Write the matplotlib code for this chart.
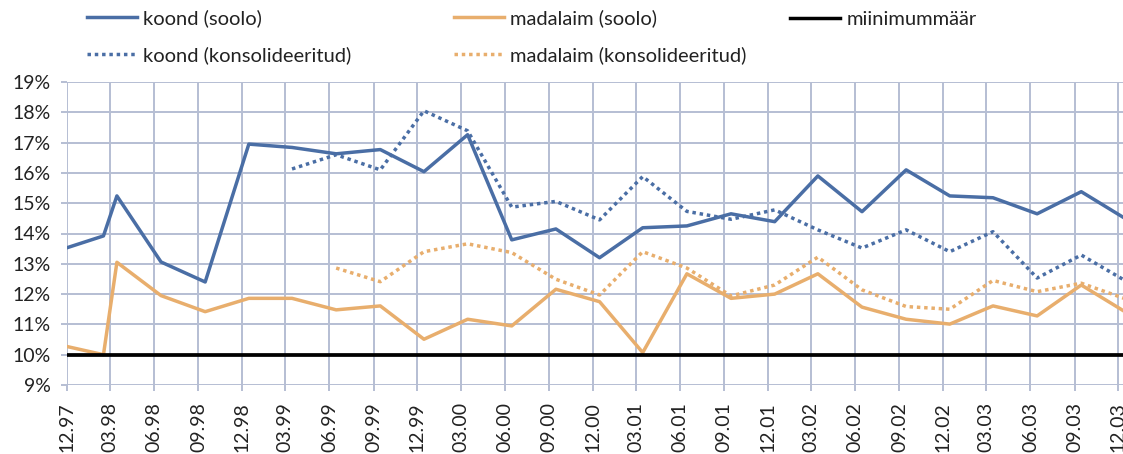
import pandas as pd
import matplotlib.pyplot as plt
from matplotlib.lines import Line2D
from matplotlib.ticker import FuncFormatter, MultipleLocator

plt.rcParams['font.family'] = ['Lato', 'DejaVu Sans']

# observation dates (quarterly, plus one extra point in early 1998)
dates = ['1997-12-01', '1998-02-15', '1998-03-15', '1998-06-15', '1998-09-15',
         '1998-12-15', '1999-03-15', '1999-06-15', '1999-09-15', '1999-12-15',
         '2000-03-15', '2000-06-15', '2000-09-15', '2000-12-15', '2001-03-15',
         '2001-06-15', '2001-09-15', '2001-12-15', '2002-03-15', '2002-06-15',
         '2002-09-15', '2002-12-15', '2003-03-15', '2003-06-15', '2003-09-15',
         '2003-12-15']

koond_soolo = [13.53, 13.92, 15.24, 13.06, 12.40, 16.95, 16.84, 16.63, 16.77, 16.04,
               17.26, 13.79, 14.15, 13.20, 14.19, 14.25, 14.65, 14.39, 15.90, 14.72,
               16.10, 15.24, 15.18, 14.65, 15.38, 14.50]
madalaim_soolo = [10.27, 10.00, 13.05, 11.95, 11.42, 11.86, 11.86, 11.48, 11.61, 10.51,
                  11.17, 10.95, 12.16, 11.75, 10.07, 12.67, 11.86, 12.00, 12.67, 11.57,
                  11.17, 11.01, 11.61, 11.28, 12.30, 11.42]
koond_kons = [None, None, None, None, None, None, 16.13, 16.60, 16.10, 18.05,
              17.39, 14.87, 15.06, 14.45, 15.88, 14.73, 14.47, 14.78, 14.12, 13.52,
              14.12, 13.40, 14.06, 12.53, 13.29, 12.45]
madalaim_kons = [None, None, None, None, None, None, None, 12.86, 12.41, 13.40,
                 13.66, 13.37, 12.49, 11.97, 13.40, 12.86, 11.94, 12.30, 13.22, 12.14,
                 11.59, 11.50, 12.45, 12.08, 12.36, 11.85]
miinimum = 10

tick_dates = pd.date_range('1997-12-01', '2003-12-01', freq='3MS')
tick_labels = [d.strftime('%m.%y') for d in tick_dates]

df = pd.DataFrame({'date': pd.to_datetime(dates),
                   'koond_soolo': koond_soolo,
                   'madalaim_soolo': madalaim_soolo,
                   'koond_kons': pd.to_numeric(koond_kons),
                   'madalaim_kons': pd.to_numeric(madalaim_kons)})

blue = '#4a6ea5'
orange = '#e8ae6d'
gridc = '#b6bed3'
dots = (0, (1, 1.1))
lw = 2.5

fig = plt.figure(figsize=(11.23, 4.54), dpi=100)
ax = fig.add_axes([67 / 1123, 69 / 454, 1056 / 1123, 303 / 454])

ax.plot(df['date'], df['koond_soolo'], color=blue, lw=lw)
ax.plot(df['date'], df['madalaim_soolo'], color=orange, lw=lw)
ax.axhline(miinimum, color='black', lw=2.7)
ax.plot(df['date'], df['koond_kons'], color=blue, lw=lw, ls=dots, dash_capstyle='butt')
ax.plot(df['date'], df['madalaim_kons'], color=orange, lw=lw, ls=dots, dash_capstyle='butt')

ax.set_ylim(9, 19)
ax.set_xlim(pd.Timestamp('1997-12-01'), pd.Timestamp('2003-12-11'))
ax.yaxis.set_major_locator(MultipleLocator(1))
ax.yaxis.set_major_formatter(FuncFormatter(lambda v, p: f'{v:.0f}%'))
ax.set_xticks(tick_dates)
ax.set_xticklabels(tick_labels, rotation=90, va='top', ha='center')

ax.grid(True, color=gridc, lw=1.4)
ax.set_axisbelow(True)
for s in ax.spines.values():
    s.set_visible(False)
ax.tick_params(axis='both', color=gridc, width=1.4, length=4.5, labelsize=14,
               labelcolor='#222222')
ax.tick_params(axis='y', pad=7)
ax.tick_params(axis='x', pad=8)

# legend drawn in three separate columns, like the original
cols = [([('koond (soolo)', blue, '-'), ('koond (konsolideeritud)', blue, dots)], 87, 9),
        ([('madalaim (soolo)', orange, '-'), ('madalaim (konsolideeritud)', orange, dots)], 454, 9),
        ([('miinimummäär', 'black', '-')], 790, 11)]
for items, x0, y0 in cols:
    handles = [Line2D([], [], color=c, lw=lw, ls=s, dash_capstyle='butt') for _, c, s in items]
    names = [n for n, _, _ in items]
    leg = fig.legend(handles, names, loc='upper left',
                     bbox_to_anchor=(x0 / 1123, 1 - y0 / 454), frameon=False,
                     fontsize=14.5, handlelength=2.5, handletextpad=0.3,
                     borderpad=0, borderaxespad=0, labelspacing=0.95)
    for t in leg.get_texts():
        t.set_color('#222222')

fig.savefig('out.png', dpi=100)
